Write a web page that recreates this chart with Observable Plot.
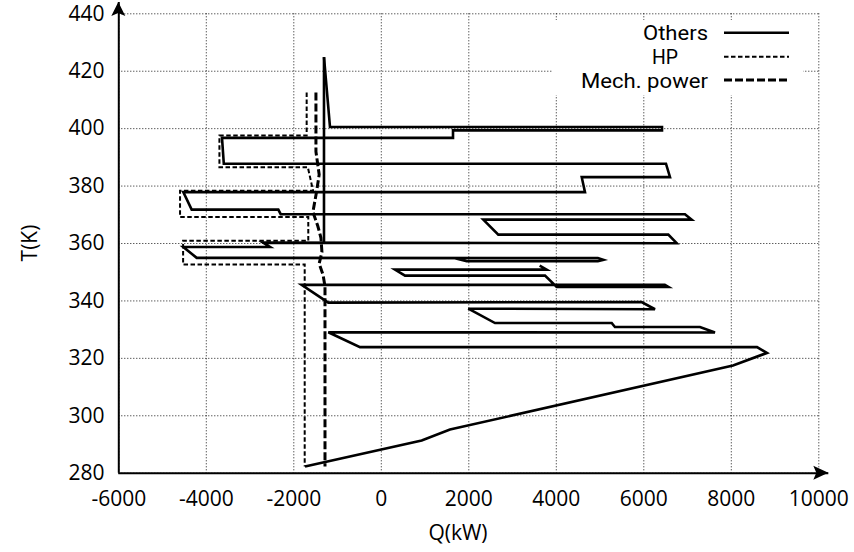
<!DOCTYPE html>
<html><head><meta charset="utf-8">
<script src="https://cdn.jsdelivr.net/npm/d3@7"></script>
<script src="https://cdn.jsdelivr.net/npm/@observablehq/plot@0.6"></script>
<style>
body{margin:0;background:#fff;}
#chart{width:854px;height:552px;}
svg text{font-family:"Open Sans",sans-serif;}
</style></head><body><div id="chart"></div>
<script>
const xTicks = [-6000,-4000,-2000,0,2000,4000,6000,8000,10000];
const yTicks = [280,300,320,340,360,380,400,420,440];
const legendLabels = ["Others","HP","Mech. power"];
const axisLabels = {x:"Q(kW)", y:"T(K)"};

// Others (solid) – lower zig-zag, Q (kW), T (K)
const othersLower = [
  [-1744,282.3],[923,291.4],[1570,295.2],[8039,317.5],[8816,321.9],[8588,323.9],
  [-487,323.9],[-1211,329.1],[7627,329.0],[7284,330.9],[5340,330.9],[5266,332.3],
  [2599,332.3],[1989,337.3],[6256,337.1],[5950,339.6],[-1211,339.4],[-1822,345.6],
  [6480,345.6],[6560,344.9],[4009,344.9],[3742,348.8],[542,348.8],[313,350.9],
  [3780,350.9],[3620,352.3]
];
// Others (solid) – upper zig-zag
const othersUpper = [
  [-1310,424.9],[-1173,400.6],[6416,400.6],[6416,399.4],[1639,399.4],[1639,396.8],
  [-3641,396.8],[-3600,387.8],[6507,387.8],[6599,383.1],[4581,383.1],[4656,377.9],
  [-4526,377.9],[-4334,371.8],[-2354,371.8],[-2300,370.2],[6941,370.2],[7095,368.3],
  [2331,368.3],[2674,363.1],[6560,363.1],[6752,360.1],[-2704,360.3],[-2544,358.8],
  [-4526,358.8],[-4219,355.0],[4950,354.9],[5076,354.3],[4950,353.8],[1952,353.8],
  [1685,354.9]
];
const othersRiser = [[-1310,360.3],[-1310,424.9]];
// HP (fine dashes)
const hp = [
  [-1706,412.6],[-1706,397.6],[-3700,397.6],[-3700,386.6],[-1680,386.6],[-1560,378.4],
  [-4600,378.4],[-4600,369.2],[-1669,369.2],[-1669,361.0],[-4530,361.0],[-4530,352.7],
  [-1751,352.7],[-1751,282.3]
];
// Mech. power (long dashes)
const mech = [
  [-1494,412.6],[-1494,392],[-1420,384],[-1480,378],[-1563,371],[-1450,366],
  [-1380,362],[-1357,357],[-1420,353],[-1330,349],[-1287,345],[-1287,282.3]
];

const rows = (pts, seg) => pts.map(([q,t]) => ({q, t, seg}));
const othersRows = [...rows(othersLower,"a"), ...rows(othersUpper,"b"), ...rows(othersRiser,"c")];

const xMin = xTicks[0], xMax = xTicks[xTicks.length-1];
const yMin = yTicks[0], yMax = yTicks[yTicks.length-1];
const xArrowEnd = 10229, yArrowEnd = 443.9;

const lineStyle = {strokeLinejoin:"miter", strokeMiterlimit:4, strokeLinecap:"butt"};
const hpDash = "4.5,2.5", mechDash = "8,3";

const plot = Plot.plot({
  width:854, height:552,
  marginLeft:118.3, marginRight:35.7, marginTop:13.3, marginBottom:79.3,
  x:{domain:[xMin,xMax]}, y:{domain:[yMin,yMax]},
  style:{fontFamily:"'Open Sans', sans-serif", fontSize:"21px", color:"#000", background:"#fff", overflow:"visible"},
  marks:[
    Plot.gridX(xTicks,{stroke:"#000", strokeOpacity:0.9, strokeWidth:1, strokeDasharray:"1,2"}),
    Plot.gridY(yTicks,{stroke:"#000", strokeOpacity:0.9, strokeWidth:1, strokeDasharray:"1,2"}),
    Plot.axisX(xTicks,{tickSize:0, tickPadding:18, label:null, tickFormat:d=>String(d), fontSize:21}),
    Plot.axisY(yTicks,{tickSize:0, tickPadding:14.3, label:null, tickFormat:d=>String(d), fontSize:21}),
    Plot.ruleY([yMin],{x1:xMin, x2:xArrowEnd, stroke:"#000", strokeWidth:2}),
    Plot.ruleX([xMin],{y1:yMin, y2:yArrowEnd, stroke:"#000", strokeWidth:2}),
    Plot.line(rows(hp,"h"),{x:"q", y:"t", stroke:"#000", strokeWidth:2, strokeDasharray:hpDash, ...lineStyle}),
    Plot.line(rows(mech,"m"),{x:"q", y:"t", stroke:"#000", strokeWidth:3, strokeDasharray:mechDash, ...lineStyle}),
    Plot.line(othersRows,{x:"q", y:"t", z:"seg", stroke:"#000", strokeWidth:2.6, ...lineStyle})
  ]
});
document.getElementById("chart").appendChild(plot);

const svg = d3.select(plot);
const sx = plot.scale("x").apply, sy = plot.scale("y").apply;
// arrowheads
const ax = sx(xArrowEnd), ay = sy(yMin);
svg.append("path").attr("d",`M${ax},${ay} L${ax-15},${ay-7} L${ax-12},${ay} L${ax-15},${ay+7} Z`).attr("fill","#000");
const bx = sx(xMin), by = sy(yArrowEnd);
svg.append("path").attr("d",`M${bx},${by} L${bx-7},${by+14} L${bx},${by+11} L${bx+7},${by+14} Z`).attr("fill","#000");

// axis titles
svg.append("text").attr("x",458).attr("y",540).attr("text-anchor","middle")
  .attr("font-size",21).attr("fill","#000").text(axisLabels.x);
svg.append("text").attr("transform","translate(37,243) rotate(-90)").attr("text-anchor","middle")
  .attr("font-size",21).attr("fill","#000").text(axisLabels.y);

// legend
const lg = svg.append("g");
lg.append("rect").attr("x",552).attr("y",20).attr("width",251).attr("height",75).attr("fill","#fff");
const legendRows = [
  {label:legendLabels[0], tx:708, ty:40, ly:32.7, len:65, dash:null, w:2.6},
  {label:legendLabels[1], tx:678, ty:64, ly:56.7, len:26, dash:hpDash, w:2},
  {label:legendLabels[2], tx:708, ty:88, ly:80, len:127, dash:mechDash, w:3}
];
legendRows.forEach(r => {
  lg.append("text").attr("x",r.tx).attr("y",r.ty).attr("text-anchor","end")
    .style("font-family","Roboto, sans-serif")
    .attr("font-size",20).attr("fill","#000")
    .attr("textLength",r.len).attr("lengthAdjust","spacingAndGlyphs").text(r.label);
  const l = lg.append("line").attr("x1",724).attr("x2",789).attr("y1",r.ly).attr("y2",r.ly)
    .attr("stroke","#000").attr("stroke-width",r.w);
  if (r.dash) l.attr("stroke-dasharray", r.dash);
});
</script></body></html>
